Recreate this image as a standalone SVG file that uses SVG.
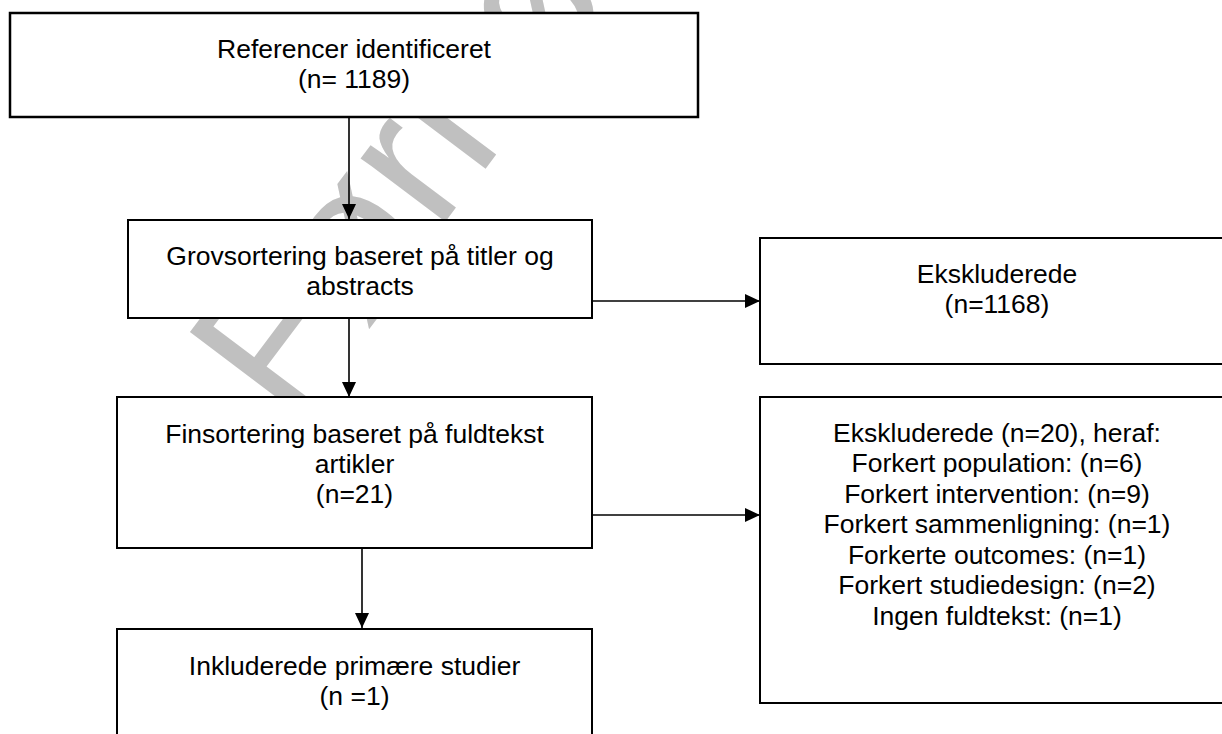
<svg xmlns="http://www.w3.org/2000/svg" width="1222" height="734" viewBox="0 0 1222 734">
<style>
.box{fill:#fff;stroke:#000;stroke-width:2}
.t{font-family:"Liberation Sans",Arial,sans-serif;font-size:26.5px;fill:#000;text-anchor:middle}
.c{stroke:#000;stroke-width:1.6;fill:none}
.wm{font-family:"Liberation Sans",Arial,sans-serif;font-size:200px;fill:#c0c0c0}
</style>
<defs>
<marker id="ah" markerUnits="userSpaceOnUse" markerWidth="16" markerHeight="16" viewBox="0 0 16 16" refX="15" refY="8" orient="auto">
<path d="M0,1 L15,8 L0,15 Z" fill="#000"/>
</marker>
</defs>
<rect width="1222" height="734" fill="#fff"/>
<text class="wm" transform="translate(290,428) rotate(-53)">Førhøring</text>
<g id="connectors">
<line class="c" x1="349" y1="117" x2="349" y2="219" marker-end="url(#ah)"/>
<line class="c" x1="349" y1="318" x2="349" y2="397" marker-end="url(#ah)"/>
<line class="c" x1="362" y1="548" x2="362" y2="628" marker-end="url(#ah)"/>
<line class="c" x1="592" y1="301" x2="760" y2="301" marker-end="url(#ah)"/>
<line class="c" x1="592" y1="515" x2="760" y2="515" marker-end="url(#ah)"/>
</g>
<g id="n-referencer">
<rect class="box" x="10" y="13" width="688" height="104" style="stroke-width:2.5"/>
<text class="t" x="354" y="58">Referencer identificeret</text>
<text class="t" x="354" y="88">(n= 1189)</text>
</g>
<g id="n-grov">
<rect class="box" x="128" y="220" width="464" height="98"/>
<text class="t" x="360" y="265">Grovsortering baseret på titler og</text>
<text class="t" x="360" y="295">abstracts</text>
</g>
<g id="n-ekskl1">
<rect class="box" x="760" y="238" width="480" height="126"/>
<text class="t" x="997" y="283">Ekskluderede</text>
<text class="t" x="997" y="313">(n=1168)</text>
</g>
<g id="n-fin">
<rect class="box" x="117" y="397" width="475" height="151"/>
<text class="t" x="354.5" y="443">Finsortering baseret på fuldtekst</text>
<text class="t" x="354.5" y="473">artikler</text>
<text class="t" x="354.5" y="503">(n=21)</text>
</g>
<g id="n-ekskl2">
<rect class="box" x="760" y="397" width="480" height="306"/>
<text class="t" x="997" y="442">Ekskluderede (n=20), heraf:</text>
<text class="t" x="997" y="472">Forkert population: (n=6)</text>
<text class="t" x="997" y="503">Forkert intervention: (n=9)</text>
<text class="t" x="997" y="533">Forkert sammenligning: (n=1)</text>
<text class="t" x="997" y="564">Forkerte outcomes: (n=1)</text>
<text class="t" x="997" y="594">Forkert studiedesign: (n=2)</text>
<text class="t" x="997" y="625">Ingen fuldtekst: (n=1)</text>
</g>
<g id="n-inkl">
<rect class="box" x="117" y="629" width="475" height="130"/>
<text class="t" x="354.5" y="675">Inkluderede primære studier</text>
<text class="t" x="354.5" y="705">(n =1)</text>
</g>
</svg>
